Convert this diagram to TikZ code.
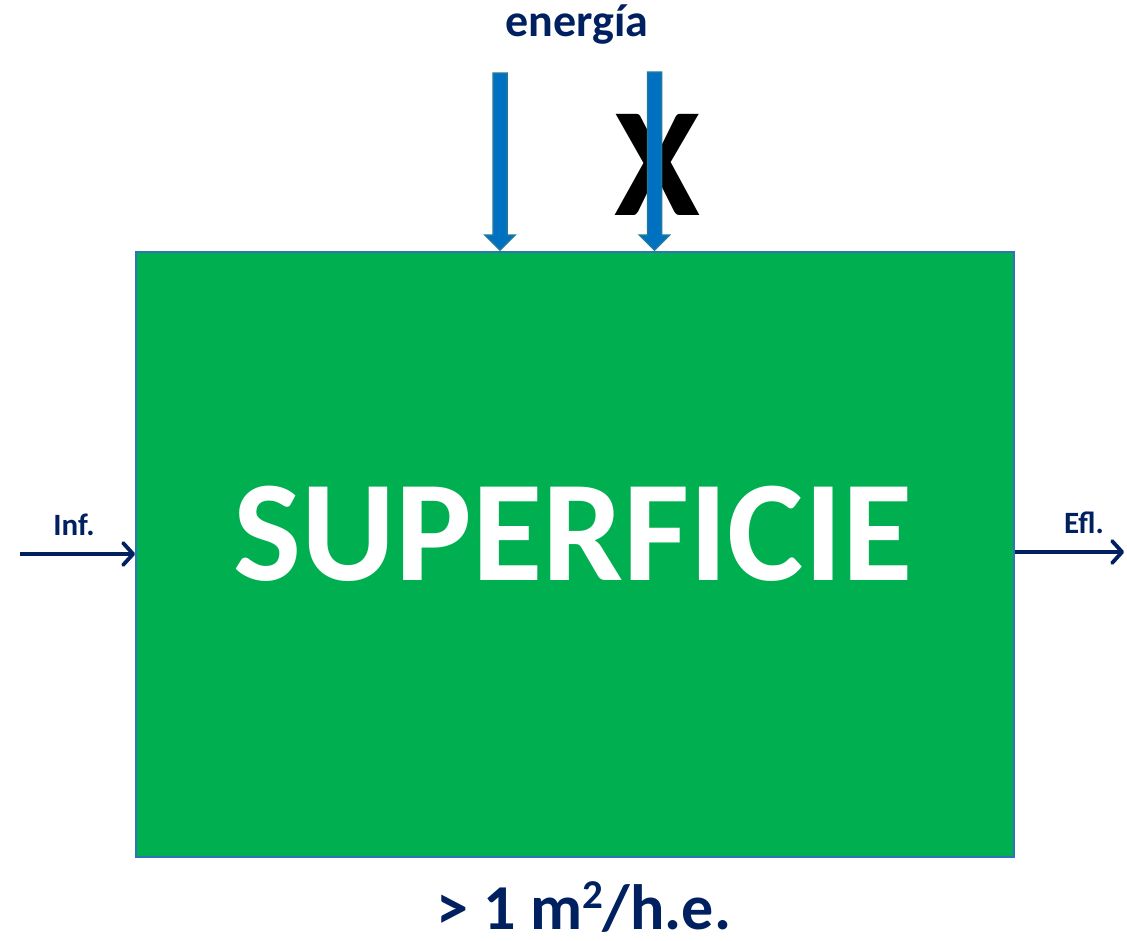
\documentclass[tikz,border=0pt]{standalone}
\usepackage{fontspec}
\setmainfont{Carlito}
\usetikzlibrary{arrows.meta,calc}
\definecolor{navy}{HTML}{002060}
\definecolor{boxgreen}{HTML}{00AF50}
\definecolor{boxedge}{HTML}{2E75B6}
\definecolor{arrblue}{HTML}{0070C0}
\definecolor{arredge}{RGB}{31,120,160}
\tikzset{
  lbl/.style={text=navy, font=\bfseries, inner sep=0pt, anchor=base},
  flow/.style={draw=navy, line width=3.8pt, -{Straight Barb[length=10pt,width=22pt,line cap=round,line join=round]}},
  blockarrow/.style={fill=arrblue, draw=arredge, line width=1.5pt, line join=miter}
}
\begin{document}
\begin{tikzpicture}[x=1pt,y=-1pt]
\useasboundingbox (0,0) rectangle (1127,940);
\node[draw=boxedge, fill=boxgreen, line width=2pt, minimum width=878pt, minimum height=605pt, inner sep=0pt] (box) at (575,554.5) {};
\node[lbl, text=white, font=\bfseries\fontsize{144}{144}\selectfont] (sup) at (573,580) {SUPERFICIE};
\node[lbl, font=\bfseries\fontsize{46}{46}\selectfont] (en) at (577,36) {energía};
\node[inner sep=0pt, font=\bfseries\fontsize{156}{156}\selectfont] (x) at (657,165) {X};
% block arrows
\foreach \cx/\ty in {500/73, 654.5/72}{
  \fill[blockarrow] (\cx-7,\ty) -- (\cx+7,\ty) -- (\cx+7,235) -- (\cx+15,235) -- (\cx,250) -- (\cx-15,235) -- (\cx-7,235) -- cycle;
}
\node[lbl, font=\bfseries\fontsize{31}{31}\selectfont] (inf) at (74,535) {Inf.};
\node[lbl, font=\bfseries\fontsize{31}{31}\selectfont] (efl) at (1084,533) {Efl.};
\coordinate (inA) at (20,554);
\coordinate (eflB) at (1124,552);
\draw[flow] (inA) -- (box.west |- inA);
\draw[flow] (box.east |- eflB) -- (eflB);
\node[lbl, font=\bfseries\fontsize{64}{64}\selectfont] (area) at (584,929) {> 1 m\raisebox{21pt}{\fontsize{41}{41}\selectfont 2}/h.e.};
\end{tikzpicture}
\end{document}
